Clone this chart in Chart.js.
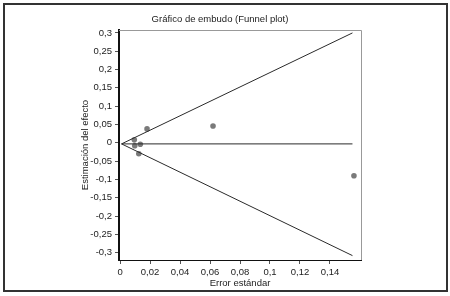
<!DOCTYPE html>
<html>
<head>
<meta charset="utf-8">
<script src="https://cdn.jsdelivr.net/npm/chart.js@4"></script>
<style>
  html, body { margin: 0; padding: 0; background: #fff; }
  #wrap { width: 450px; height: 296px; }
</style>
</head>
<body>
<div id="wrap"><canvas id="funnel" width="450" height="296"></canvas></div>
<script>
// study points (standard error, effect estimate)
const studyErr = [0.0095, 0.0098, 0.0135, 0.0125, 0.018, 0.062, 0.156];
const studyEff = [0.008, -0.008, -0.004, -0.030, 0.038, 0.046, -0.090];

// funnel lines: apex then end points
const apexErr = 0.001;
const apexEff = -0.003;
const endErr = 0.155;
const upperEnd = 0.300;
const lowerEnd = -0.308;
const centerEnd = -0.003;

const xTicks = [0, 0.02, 0.04, 0.06, 0.08, 0.1, 0.12, 0.14];
const yTicks = [-0.3, -0.25, -0.2, -0.15, -0.1, -0.05, 0, 0.05, 0.1, 0.15, 0.2, 0.25, 0.3];

const chartTitle = "Gráfico de embudo (Funnel plot)";
const fontFam = "'Liberation Sans', Arial, sans-serif";

// comma as decimal separator
function fmt(v) {
  const s = String(+v.toFixed(2));
  return s === "-0" ? "0" : s.replace(".", ",");
}

function linePts(endY) {
  return [{ x: apexErr, y: apexEff }, { x: endErr, y: endY }];
}

// outer frame, title, light top/right border of plot
const framePlugin = {
  id: "frame",
  afterDraw(chart) {
    const ctx = chart.ctx;
    const a = chart.chartArea;
    ctx.save();
    ctx.strokeStyle = "#999";
    ctx.lineWidth = 1;
    ctx.beginPath();
    ctx.moveTo(a.left, a.top + 0.5);
    ctx.lineTo(a.right + 0.5, a.top + 0.5);
    ctx.lineTo(a.right + 0.5, a.bottom);
    ctx.stroke();
    ctx.strokeStyle = "#333";
    ctx.lineWidth = 2;
    ctx.strokeRect(4, 4, 443, 287);
    ctx.fillStyle = "#222";
    ctx.font = "9.5px " + fontFam;
    ctx.textAlign = "center";
    ctx.textBaseline = "middle";
    ctx.fillText(chartTitle, 220, 19);
    ctx.restore();
  }
};

const lineStyle = {
  type: "line",
  borderColor: "#2a2a2a",
  borderWidth: 1,
  pointRadius: 0,
  fill: false,
  showLine: true
};

new Chart(document.getElementById("funnel"), {
  type: "scatter",
  data: {
    datasets: [
      Object.assign({ data: linePts(upperEnd) }, lineStyle),
      Object.assign({ data: linePts(lowerEnd) }, lineStyle),
      Object.assign({ data: linePts(centerEnd) }, lineStyle),
      {
        data: studyErr.map((e, i) => ({ x: e, y: studyEff[i] })),
        backgroundColor: "#7a7a7a",
        borderColor: "#7a7a7a",
        pointRadius: 2.8,
        pointBorderWidth: 0
      }
    ]
  },
  options: {
    responsive: false,
    animation: false,
    layout: { padding: { left: 0, right: 89, top: 30, bottom: 0 } },
    plugins: {
      legend: { display: false },
      tooltip: { enabled: false },
      title: { display: false }
    },
    scales: {
      x: {
        type: "linear",
        min: -0.0007,
        max: 0.1607,
        afterBuildTicks: s => { s.ticks = xTicks.map(v => ({ value: v })); },
        afterFit: s => { s.height = 36; },
        ticks: {
          callback: v => fmt(v),
          color: "#222",
          font: { family: fontFam, size: 9.5 },
          padding: 3,
          maxRotation: 0
        },
        grid: { drawOnChartArea: false, tickLength: 4, color: "#555" },
        border: { color: "#111", width: 1 },
        title: {
          display: true,
          text: "Error estándar",
          color: "#222",
          font: { family: fontFam, size: 9.5 },
          padding: { top: 0, bottom: 7 }
        }
      },
      y: {
        type: "linear",
        min: -0.32,
        max: 0.308,
        afterBuildTicks: s => { s.ticks = yTicks.map(v => ({ value: v })); },
        afterFit: s => { s.width = 119; },
        ticks: {
          callback: v => fmt(v),
          color: "#222",
          font: { family: fontFam, size: 9.5 },
          padding: 3
        },
        grid: { drawOnChartArea: false, tickLength: 4, color: "#555" },
        border: { color: "#111", width: 2 },
        title: {
          display: true,
          text: "Estimación del efecto",
          color: "#222",
          font: { family: fontFam, size: 9.5 },
          padding: { top: 80, bottom: 0 }
        }
      }
    }
  },
  plugins: [framePlugin]
});
</script>
</body>
</html>
